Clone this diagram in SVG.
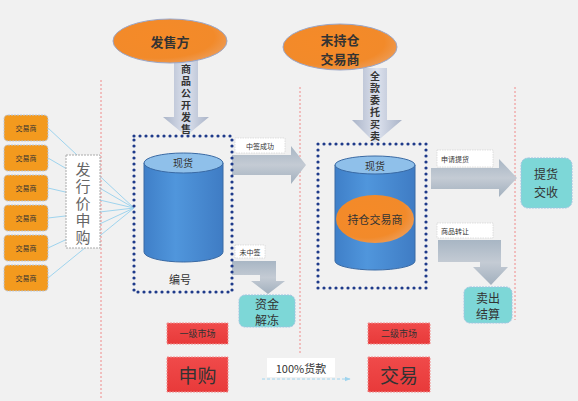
<svg xmlns="http://www.w3.org/2000/svg" width="578" height="401" viewBox="0 0 578 401">
<defs>
<style>
text{font-family:"Noto Sans CJK SC","Noto Sans",sans-serif;fill:#333;text-anchor:middle;dominant-baseline:central}
.sep{stroke:#f08a8a;stroke-width:1;stroke-dasharray:2 2;fill:none}
.trader rect{fill:#f39a1e;stroke:#b6c7e0;stroke-width:1;stroke-dasharray:2 1}
.trader text{font-size:7px}
.dots{fill:none;stroke:#1e3a8a;stroke-width:3.2;stroke-linecap:round;stroke-dasharray:0 6}
.lbl{fill:#fff;stroke:#ccc;stroke-width:0.6;stroke-dasharray:1.5 1}
.lbl-t{font-size:7px}
.teal{fill:#7dd7d7;stroke:#9fc3e0;stroke-width:1;stroke-dasharray:2 1}
.red{fill:url(#rg);stroke:#f09090;stroke-width:1;stroke-dasharray:2 1}
.link{stroke:#9fd4ee;stroke-width:1;fill:none}
.garrow{fill:url(#gh);stroke:none}
.vt{font-size:15px;fill:#666;writing-mode:vertical-rl;letter-spacing:2px}
.st{font-size:10px;font-weight:bold;writing-mode:vertical-rl;letter-spacing:2px}
.big{font-size:13px;font-weight:bold}
</style>
<radialGradient id="og" cx="0.4" cy="0.4" r="0.7">
<stop offset="0" stop-color="#f58a28"/><stop offset="0.7" stop-color="#f28a2a"/><stop offset="1" stop-color="#eca060"/>
</radialGradient>
<linearGradient id="gh" x1="0" y1="0" x2="0" y2="1">
<stop offset="0" stop-color="#a8b6c4"/><stop offset="0.5" stop-color="#c4cbd4"/><stop offset="1" stop-color="#a2b0be"/>
</linearGradient>
<linearGradient id="gv" x1="0" y1="0" x2="1" y2="0">
<stop offset="0" stop-color="#aab4c8"/><stop offset="0.5" stop-color="#dde2ee"/><stop offset="1" stop-color="#aab4c8"/>
</linearGradient>
<linearGradient id="cyl" x1="0" y1="0" x2="1" y2="0">
<stop offset="0" stop-color="#3f7fc8"/><stop offset="0.4" stop-color="#5096dc"/><stop offset="1" stop-color="#3f7cc4"/>
</linearGradient>
<linearGradient id="rg" x1="0" y1="0" x2="0" y2="1">
<stop offset="0" stop-color="#f04a4a"/><stop offset="1" stop-color="#e83a3a"/>
</linearGradient>
<marker id="ah" viewBox="0 0 10 10" refX="9" refY="5" markerWidth="6" markerHeight="6" orient="auto">
<path d="M0,1 L10,5 L0,9 Z" fill="#9fd4ee"/>
</marker>
</defs>
<rect width="578" height="401" fill="#f1f1f1"/>

<g id="separators">
<line class="sep" x1="101" y1="80" x2="101" y2="400"/>
<line class="sep" x1="300" y1="87" x2="300" y2="355"/>
<line class="sep" x1="515" y1="87" x2="515" y2="320"/>
</g>

<g id="connectors">
<line class="link" x1="48" y1="128" x2="134" y2="208"/>
<line class="link" x1="48" y1="158" x2="134" y2="208"/>
<line class="link" x1="48" y1="188" x2="134" y2="208"/>
<line class="link" x1="48" y1="218" x2="134" y2="208"/>
<line class="link" x1="48" y1="248" x2="134" y2="208"/>
<line class="link" x1="48" y1="278" x2="134" y2="208"/>
<path class="garrow" d="M232,155 L291,155 L291,146 L306,165 L291,184 L291,175 L232,175 Z"/>
<path class="garrow" d="M232,261 L276,261 L276,281 L285,281 L268,294 L251,281 L260,281 L260,275 L232,275 Z"/>
<path class="garrow" d="M431,168 L499,168 L499,159 L517,178 L499,197 L499,189 L431,189 Z"/>
<path class="garrow" d="M438,240 L501,240 L501,267 L508,267 L491,285 L473,267 L480,267 L480,262 L438,262 Z"/>
<line x1="262" y1="379" x2="350" y2="379" stroke="#9fd4ee" stroke-width="1" stroke-dasharray="3 2" marker-end="url(#ah)"/>
</g>

<g id="traders">
<g class="trader" id="t1"><rect x="4" y="115" width="44" height="26" rx="4"/><text x="26" y="128">交易商</text></g>
<g class="trader" id="t2"><rect x="4" y="145" width="44" height="26" rx="4"/><text x="26" y="158">交易商</text></g>
<g class="trader" id="t3"><rect x="4" y="175" width="44" height="26" rx="4"/><text x="26" y="188">交易商</text></g>
<g class="trader" id="t4"><rect x="4" y="205" width="44" height="26" rx="4"/><text x="26" y="218">交易商</text></g>
<g class="trader" id="t5"><rect x="4" y="235" width="44" height="26" rx="4"/><text x="26" y="248">交易商</text></g>
<g class="trader" id="t6"><rect x="4" y="265" width="44" height="26" rx="4"/><text x="26" y="278">交易商</text></g>
</g>

<g id="issue-bid">
<rect x="66" y="155" width="34" height="93" fill="#fff" stroke="#aaa" stroke-width="1" stroke-dasharray="2 1"/>
<text class="vt" x="83" y="204">发行价申购</text>
</g>

<g id="seller">
<path d="M174,60 L198,60 L198,117 L209,117 L186,136 L163,117 L174,117 Z" fill="url(#gv)"/>
<ellipse cx="170" cy="41" rx="57" ry="22" fill="url(#og)" stroke="#9aa6c8" stroke-width="1"/>
<text class="big" x="170" y="41">发售方</text>
<text class="st" x="186" y="100">商品公开发售</text>
</g>

<g id="holder">
<path d="M363,68 L387,68 L387,120 L402,120 L375,143 L352,120 L363,120 Z" fill="url(#gv)"/>
<ellipse cx="340" cy="47" rx="57" ry="23" fill="url(#og)" stroke="#9aa6c8" stroke-width="1"/>
<text class="big" x="340" y="39">末持仓</text>
<text class="big" x="340" y="58">交易商</text>
<text class="st" x="375" y="107">全款委托买卖</text>
</g>

<g id="primary-pool">
<rect class="dots" x="134" y="136" width="98" height="156"/>
<path d="M144,163 L144,252 A39.5,10 0 0 0 223,252 L223,163 Z" fill="url(#cyl)" stroke="#3a6aa4" stroke-width="1"/>
<ellipse cx="183.5" cy="163" rx="39.5" ry="10" fill="#8fc0ea" stroke="#3a6aa4" stroke-width="1"/>
<text x="183" y="162" font-size="10">现货</text>
<text x="180" y="279" font-size="11">编号</text>
</g>

<g id="secondary-pool">
<rect class="dots" x="318" y="144" width="108" height="144"/>
<path d="M335,165 L335,261 A40,9 0 0 0 415,261 L415,165 Z" fill="url(#cyl)" stroke="#3a6aa4" stroke-width="1"/>
<ellipse cx="375" cy="165" rx="40" ry="9" fill="#8fc0ea" stroke="#3a6aa4" stroke-width="1"/>
<text x="375" y="165" font-size="10">现货</text>
<ellipse cx="375" cy="219" rx="39" ry="24" fill="url(#og)"/>
<text x="375" y="219" font-size="11">持仓交易商</text>
</g>

<g id="label-win"><rect class="lbl" x="235" y="138" width="50" height="15"/><text class="lbl-t" x="260" y="145.5">中签成功</text></g>
<g id="label-lose"><rect class="lbl" x="235" y="245" width="30" height="13"/><text class="lbl-t" x="250" y="251.5">未中签</text></g>
<g id="label-pickup"><rect class="lbl" x="437" y="150" width="56" height="17"/><text class="lbl-t" x="455" y="158.5">申请提货</text></g>
<g id="label-transfer"><rect class="lbl" x="437" y="223" width="56" height="15"/><text class="lbl-t" x="455" y="230.5">商品转让</text></g>

<g id="unfreeze"><rect class="teal" x="239" y="295" width="56" height="32" rx="6"/><text x="267" y="303" font-size="12">资金</text><text x="267" y="319" font-size="12">解冻</text></g>
<g id="delivery"><rect class="teal" x="521" y="158" width="51" height="50" rx="7"/><text x="546" y="173" font-size="12">提货</text><text x="546" y="191" font-size="12">交收</text></g>
<g id="settle"><rect class="teal" x="464" y="287" width="48" height="36" rx="6"/><text x="488" y="297" font-size="12">卖出</text><text x="488" y="313" font-size="12">结算</text></g>

<g id="primary-market"><rect class="red" x="167" y="323" width="61" height="21"/><text x="197.5" y="333.5" font-size="9">一级市场</text></g>
<g id="subscribe"><rect class="red" x="167" y="357" width="61" height="35"/><text x="197.5" y="374.5" font-size="19">申购</text></g>
<g id="secondary-market"><rect class="red" x="368" y="323" width="62" height="21"/><text x="399" y="333.5" font-size="9">二级市场</text></g>
<g id="trade"><rect class="red" x="368" y="357" width="62" height="35"/><text x="399" y="374.5" font-size="19">交易</text></g>

<g id="payment"><rect x="267" y="358" width="68" height="19" fill="#fff"/><text x="301" y="367.5" font-size="11">100%货款</text></g>
</svg>
